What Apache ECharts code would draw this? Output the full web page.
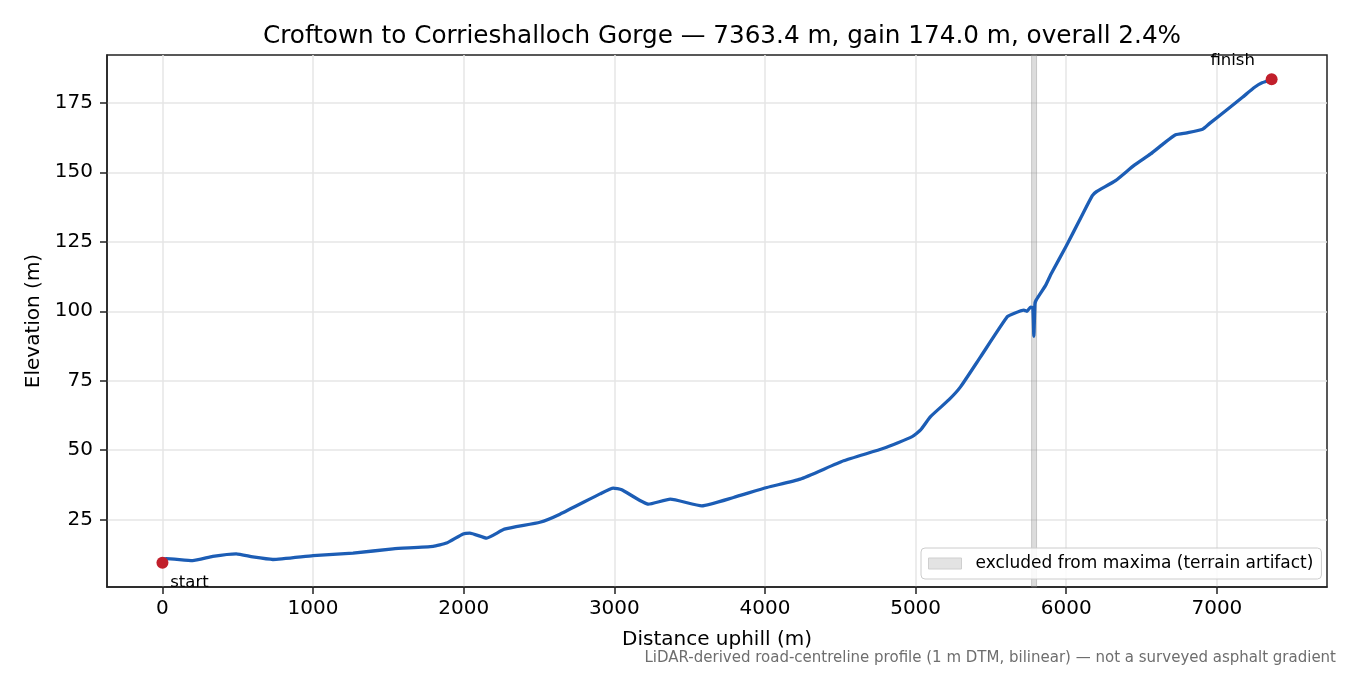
<!DOCTYPE html>
<html lang="en" style="height: 100%">
<head>
    <meta charset="utf-8">
</head>
<body style="height: 100%; margin: 0; background: #fff">
    <div id="container" style="width: 1350px; height: 675px"></div>

    <script type="text/javascript" src="https://cdn.jsdelivr.net/npm/echarts@6/dist/echarts.min.js"></script>
    <script type="text/javascript">
        // profile: distance (m) / elevation (m)
        const distance = [0, 25, 200, 334, 490, 600, 733, 1000, 1265, 1531, 1797, 1886, 1996, 2041, 2152, 2270,
            2506, 2639, 2905, 2993, 3049, 3226, 3371, 3581, 3791, 4013, 4234, 4522, 4788, 4977, 5033, 5099,
            5220, 5298, 5431, 5608, 5652, 5719, 5740, 5763, 5778, 5785, 5792, 5800, 5863, 5900, 6000, 6100,
            6172, 6200, 6327, 6450, 6560, 6650, 6726, 6800, 6905, 6950, 7071, 7170, 7248, 7300, 7363];
        const elevation = [10.8, 11.0, 10.3, 11.8, 12.7, 11.6, 10.7, 12.1, 13.0, 14.5, 15.4, 16.6, 19.9, 20.2, 18.4, 21.6,
            24.1, 27.0, 34.3, 36.4, 35.8, 30.6, 32.4, 30.0, 33.0, 36.6, 39.6, 46.2, 50.7, 54.9, 57.3, 62.1,
            68.1, 72.8, 83.6, 98.0, 99.2, 100.4, 100.0, 101.5, 101.3, 91.0, 102.5, 104.0, 109.3, 113.5, 123.5, 134.0,
            141.5, 143.0, 147.0, 152.5, 156.6, 160.5, 163.5, 164.2, 165.5, 167.5, 172.7, 177.0, 180.5, 182.2, 183.2];

        const endNames = ['start', 'finish'];
        const endDistance = [0, 7363.4];
        const endElevation = [9.5, 183.5];

        const excludedRange = [5770, 5803];
        const excludedName = 'excluded from maxima (terrain artifact)';

        const xTicks = [0, 1000, 2000, 3000, 4000, 5000, 6000, 7000];
        const yTicks = [25, 50, 75, 100, 125, 150, 175];

        const FONT = 'DejaVu Sans';

        var dom = document.getElementById('container');
        var myChart = echarts.init(dom, null, { renderer: 'canvas' });

        const profile = distance.map((d, i) => [d, elevation[i]]);
        const ends = endNames.map((n, i) => ({
            name: n,
            value: [endDistance[i], endElevation[i]],
            label: i === 0
                ? { show: true, formatter: n, position: 'bottom', distance: 5, offset: [27, 0] }
                : { show: true, formatter: n, position: 'top', distance: 4, offset: [-39, 0] }
        }));

        var option = {
            animation: false,
            title: {
                text: 'Croftown to Corrieshalloch Gorge — 7363.4 m, gain 174.0 m, overall 2.4%',
                left: 717,
                textAlign: 'center',
                top: 19,
                textStyle: { fontFamily: FONT, fontSize: 24.7, fontWeight: 'normal', color: '#000' }
            },
            grid: {
                left: 107, right: 23, top: 55, bottom: 88,
                show: true,
                borderColor: '#222',
                borderWidth: 1.5
            },
            legend: {
                left: 921,
                top: 548,
                padding: [7, 8, 7, 7],
                backgroundColor: 'rgba(255,255,255,0.85)',
                borderColor: '#cccccc',
                borderWidth: 1,
                borderRadius: 4,
                itemWidth: 33,
                itemHeight: 11,
                selectedMode: false,
                textStyle: { fontFamily: FONT, fontSize: 17, color: '#000', padding: [0, 0, 0, 9] },
                data: [{
                    name: excludedName,
                    icon: 'rect',
                    itemStyle: { color: '#e3e3e3', borderColor: '#cfcfcf', borderWidth: 1 }
                }]
            },
            xAxis: {
                type: 'value',
                min: -368,
                max: 7731,
                name: 'Distance uphill (m)',
                nameLocation: 'middle',
                nameGap: 43,
                nameTextStyle: { fontFamily: FONT, fontSize: 20, color: '#000' },
                axisLine: { show: true, onZero: false, lineStyle: { color: '#222', width: 1.5 } },
                axisTick: { show: true, length: 7, customValues: xTicks, lineStyle: { color: '#222', width: 1.5 } },
                axisLabel: {
                    customValues: xTicks, margin: 12, fontFamily: FONT, fontSize: 20, color: '#000',
                    formatter: (v) => String(v)
                },
                splitLine: { show: true, lineStyle: { color: '#e6e6e6', width: 1.5 } }
            },
            yAxis: {
                type: 'value',
                min: 0.8,
                max: 192.2,
                name: 'Elevation (m)',
                nameLocation: 'middle',
                nameGap: 62,
                nameTextStyle: { fontFamily: FONT, fontSize: 20, color: '#000' },
                axisLine: { show: true, onZero: false, lineStyle: { color: '#222', width: 1.5 } },
                axisTick: { show: true, length: 7, customValues: yTicks, lineStyle: { color: '#222', width: 1.5 } },
                axisLabel: {
                    customValues: yTicks, margin: 14, fontFamily: FONT, fontSize: 20, color: '#000',
                    formatter: (v) => String(v)
                },
                splitLine: { show: true, lineStyle: { color: '#e6e6e6', width: 1.5 } }
            },
            series: [
                {
                    name: excludedName,
                    type: 'line',
                    data: [],
                    z: 1,
                    itemStyle: { color: '#e3e3e3' },
                    markArea: {
                        silent: true,
                        itemStyle: { color: 'rgba(140,140,140,0.3)', borderColor: 'rgba(140,140,140,0.4)', borderWidth: 1 },
                        data: [[{ xAxis: excludedRange[0] }, { xAxis: excludedRange[1] }]]
                    }
                },
                {
                    name: 'profile',
                    type: 'line',
                    data: profile,
                    showSymbol: false,
                    smooth: 0.15,
                    z: 3,
                    lineStyle: { color: '#1c5db5', width: 3.3, cap: 'round', join: 'round' },
                    itemStyle: { color: '#1c5db5' }
                },
                {
                    name: 'ends',
                    type: 'scatter',
                    data: ends,
                    symbolSize: 12,
                    z: 5,
                    itemStyle: { color: '#c11f2b', opacity: 1 },
                    label: { fontFamily: FONT, fontSize: 16.5, color: '#000' }
                }
            ],
            graphic: [{
                type: 'text',
                right: 14,
                top: 651,
                style: {
                    text: 'LiDAR-derived road-centreline profile (1 m DTM, bilinear) — not a surveyed asphalt gradient',
                    font: '15px "DejaVu Sans"',
                    fill: '#6e6e6e'
                }
            }]
        };

        myChart.setOption(option);
        window.addEventListener('resize', myChart.resize);
    </script>
</body>
</html>
